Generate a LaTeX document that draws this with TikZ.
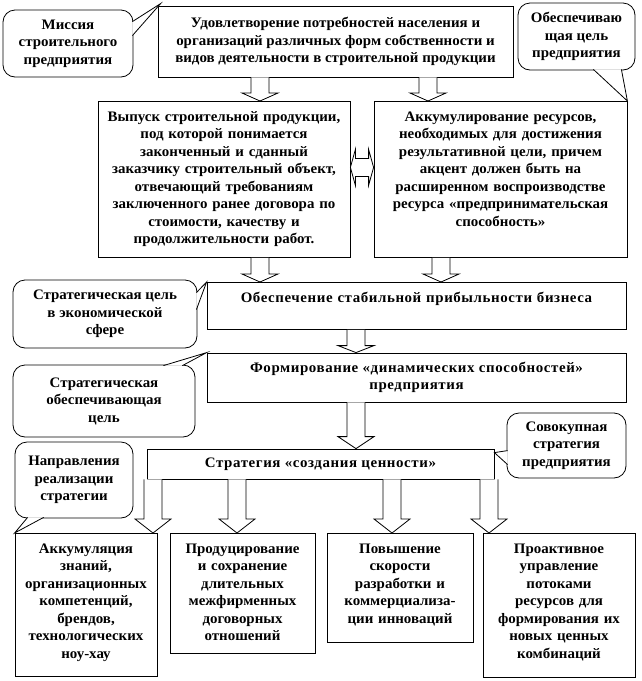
\documentclass[tikz,border=0pt]{standalone}
\usepackage{fontspec}
\setmainfont[FakeStretch=1.03]{Liberation Serif}
\usetikzlibrary{calc}
\tikzstyle{process} = [
    rectangle,
    draw=black,
    line width=0.8pt,
    align=center,
    font=\bfseries\fontsize{14.5}{17.5}\selectfont
]
\tikzstyle{spaced} = [
    font=\bfseries\fontsize{14.5}{17.5}\selectfont\addfontfeature{LetterSpace=4}
]
\tikzstyle{textbox} = [
    process,
    anchor=north,
    inner xsep=0pt,
    inner ysep=4pt,
    text height=16pt
]
\tikzstyle{bubble} = [
    process,
    rounded corners=12pt,
    inner sep=0pt
]
\tikzstyle{blockarrow} = [draw=black, fill=white, line width=0.8pt]
\tikzstyle{tail} = [draw=black, line width=0.8pt]

\newcommand{\blockdown}[4]{%
  \draw [blockarrow] let \p1 = (#2.south), \p2 = (#3.north) in
    (#1-9,\y1) -- (#1-9,\y2+#4pt) -- (#1-18,\y2+#4pt) -- (#1,\y2)
    -- (#1+18,\y2+#4pt) -- (#1+9,\y2+#4pt) -- (#1+9,\y1);}
\newcommand{\calloutail}[3]{%
  \fill [white] #1 -- #2 -- #3 -- cycle;
  \draw [tail] #1 -- #2 -- #3;}

\begin{document}
\begin{tikzpicture}[x=1pt, y=-1pt]
\useasboundingbox (0,0) rectangle (642,681);

\node (need) [process, minimum width=355pt, minimum height=71pt] at (335.5,41.5)
{Удовлетворение потребностей населения и\\организаций различных форм собственности и\\видов деятельности в строительной продукции};

\node (output) [textbox, text width=252pt, text depth=132pt] at (224,101)
{Выпуск строительной продукции,\\под которой понимается\\законченный и сданный\\заказчику строительный объект,\\отвечающий требованиям\\заключенного ранее договора по\\стоимости, качеству и\\продолжительности работ.};

\node (resource) [textbox, text width=253pt, text depth=132pt] at (500.5,101)
{Аккумулирование ресурсов,\\необходимых для достижения\\результативной цели, причем\\акцент должен быть на\\расширенном воспроизводстве\\ресурса «предпринимательская\\способность»};

\node (profit) [textbox, spaced, text width=419pt, text depth=23pt] at (416.5,282)
{Обеспечение стабильной прибыльности бизнеса};

\node (dyn) [process, spaced, minimum width=419pt, minimum height=49pt] at (416.5,377.5)
{Формирование «динамических способностей»\\предприятия};

\node (strat) [process, spaced, minimum width=347pt, minimum height=30pt] at (320.5,464)
{Стратегия «создания ценности»};

\node (know) [textbox, text width=142pt, text depth=119pt] at (86,533)
{Аккумуляция\\знаний,\\организационных\\компетенций,\\брендов,\\технологических\\ноу-хау};

\node (contract) [textbox, text width=145pt, text depth=96pt] at (242.5,533)
{Продуцирование\\и сохранение\\длительных\\межфирменных\\договорных\\отношений};

\node (speed) [textbox, text width=146pt, text depth=85pt] at (400,533)
{Повышение\\скорости\\разработки и\\коммерциализа-\\ции инноваций};

\node (flows) [textbox, text width=152pt, text depth=120pt] at (559,533)
{Проактивное\\управление\\потоками\\ресурсов для\\формирования их\\новых ценных\\комбинаций};

\node (mission) [bubble, minimum width=130pt, minimum height=67pt] at (68,43.5)
{Миссия\\строительного\\предприятия};
\node (goal) [bubble, minimum width=117pt, minimum height=67pt] at (576.5,36.5)
{Обеспечиваю\\щая цель\\предприятия};
\node (ecogoal) [bubble, minimum width=184pt, minimum height=68pt] at (105,314)
{Стратегическая цель\\в экономической\\сфере};
\node (supgoal) [bubble, minimum width=182pt, minimum height=72pt] at (104,401)
{Стратегическая\\обеспечивающая\\цель};
\node (total) [bubble, minimum width=119pt, minimum height=65pt] at (566.5,445.5)
{Совокупная\\стратегия\\предприятия};
\node (direct) [bubble, minimum width=118pt, minimum height=76pt] at (74,480)
{Направления\\реализации\\стратегии};

\calloutail{($(mission.north east)+(-1,12)$)}{($(need.north west)+(3,-2)$)}{($(mission.north east)+(-1,26)$)}
\calloutail{($(goal.south east)+(-42,-1)$)}{(resource.north east)}{($(goal.south east)+(-14,-1)$)}
\calloutail{($(ecogoal.north east)+(-1,13)$)}{(profit.north west)}{($(ecogoal.north east)+(-1,30)$)}
\calloutail{($(supgoal.north east)+(-32,1)$)}{(dyn.north west)}{($(supgoal.north east)+(-13,1)$)}
\calloutail{($(total.north west)+(1,38)$)}{($(strat.north east)+(0,4)$)}{($(total.north west)+(1,52)$)}
\calloutail{($(direct.south west)+(13,-1)$)}{(know.north west)}{($(direct.south west)+(29,-1)$)}

\blockdown{260}{need}{output}{8}
\blockdown{428}{need}{resource}{8}
\blockdown{260}{output}{profit}{8}
\blockdown{441}{resource}{profit}{8}
\blockdown{356}{profit}{dyn}{7}
\blockdown{356}{dyn}{strat}{12}
\blockdown{153}{strat}{know}{14}
\blockdown{237}{strat}{contract}{14}
\blockdown{392}{strat}{speed}{14}
\blockdown{489}{strat}{flows}{14}

\draw [blockarrow] let \p1 = (output.east), \p2 = (resource.west) in
  (\x1,\y1+12pt) -- (\x1+5pt,\y1+30pt) -- (\x1+5pt,\y1+21pt) -- (\x2-5pt,\y1+21pt)
  -- (\x2-5pt,\y1+30pt) -- (\x2,\y1+12pt) -- (\x2-5pt,\y1-6pt) -- (\x2-5pt,\y1+3pt)
  -- (\x1+5pt,\y1+3pt) -- (\x1+5pt,\y1-6pt) -- cycle;

\end{tikzpicture}
\end{document}
